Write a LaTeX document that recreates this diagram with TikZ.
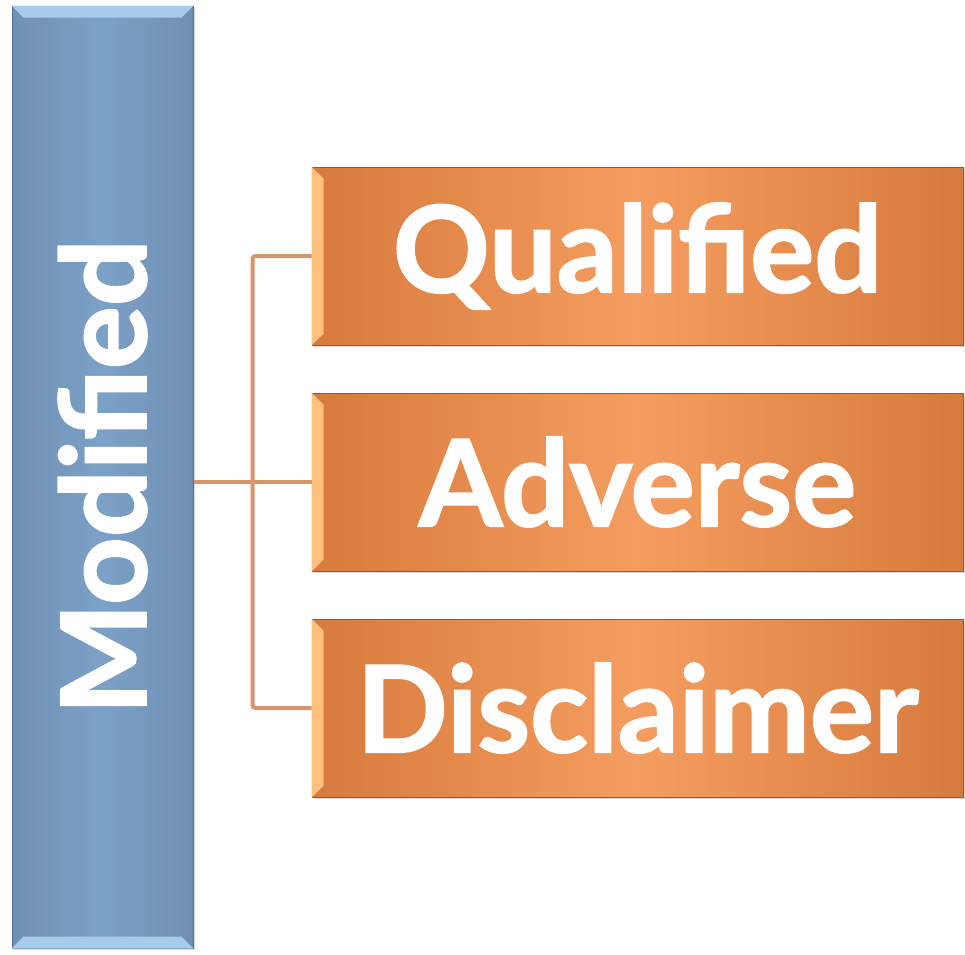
\documentclass[tikz,border=0pt]{standalone}
\usepackage{fontspec}
\setmainfont{Lato}[BoldFeatures={FakeBold=1.6}]
\usetikzlibrary{positioning,shadows,calc}

\definecolor{barfill}{HTML}{7090B2}
\definecolor{barmid}{HTML}{7CA1C7}
\definecolor{barline}{HTML}{4F6F8F}
\definecolor{barlight}{HTML}{A9CBEA}
\definecolor{leafedge}{HTML}{D77A3D}
\definecolor{leafmid}{HTML}{F59D60}
\definecolor{leafline}{HTML}{9E5527}
\definecolor{leaflight}{HTML}{FFC07E}
\definecolor{linkc}{HTML}{D9956A}

\begin{document}
\begin{tikzpicture}[
    x=1pt, y=-1pt,
    bar/.style={rectangle, draw=barline, line width=1pt, left color=barfill, right color=barfill, middle color=barmid,
        minimum width=181pt, minimum height=942pt, inner sep=0pt,
        drop shadow={shadow xshift=2pt, shadow yshift=-2pt, opacity=0.3}},
    leaf/.style={rectangle, draw=leafline, line width=1pt, left color=leafedge, right color=leafedge, middle color=leafmid,
        minimum width=651pt, minimum height=178pt, inner sep=0pt, text=white,
        font=\fontsize{120}{120}\selectfont\bfseries,
        drop shadow={shadow xshift=2pt, shadow yshift=-2pt, opacity=0.3}},
    link/.style={draw=linkc, line width=4pt, rounded corners=3pt}
]
    \useasboundingbox (0,0) rectangle (965,954);

    % Root bar
    \node[bar] (mod) at (102.5,477) {};
    \fill[barlight] (mod.north west) -- (mod.north east) -- ($(mod.north east)+(-12,12)$) -- ($(mod.north west)+(12,12)$) -- cycle;
    \fill[barlight] (mod.south west) -- (mod.south east) -- ($(mod.south east)+(-12,-12)$) -- ($(mod.south west)+(12,-12)$) -- cycle;
    \node[rotate=90, text=white, font=\fontsize{118}{118}\selectfont\bfseries] (modlabel) at (mod.center) {Modified};

    % Branches
    \node[leaf] (qual) at (637.5,256) {Qualified};
    \node[leaf, below=47pt of qual] (adv) {Adverse};
    \node[leaf, below=47pt of adv] (disc) {Disclaimer};

    \foreach \n in {qual,adv,disc}
        \fill[leaflight] (\n.north west) -- (\n.south west) -- ($(\n.south west)+(12,-12)$) -- ($(\n.north west)+(12,12)$) -- cycle;

    % Connectors
    \coordinate (hub) at ($(mod.east |- adv.west)!0.5!(adv.west)$);
    \draw[link] (mod.east |- adv.west) -- (adv.west);
    \draw[link] (qual.west) -| (hub) |- (disc.west);
\end{tikzpicture}
\end{document}
